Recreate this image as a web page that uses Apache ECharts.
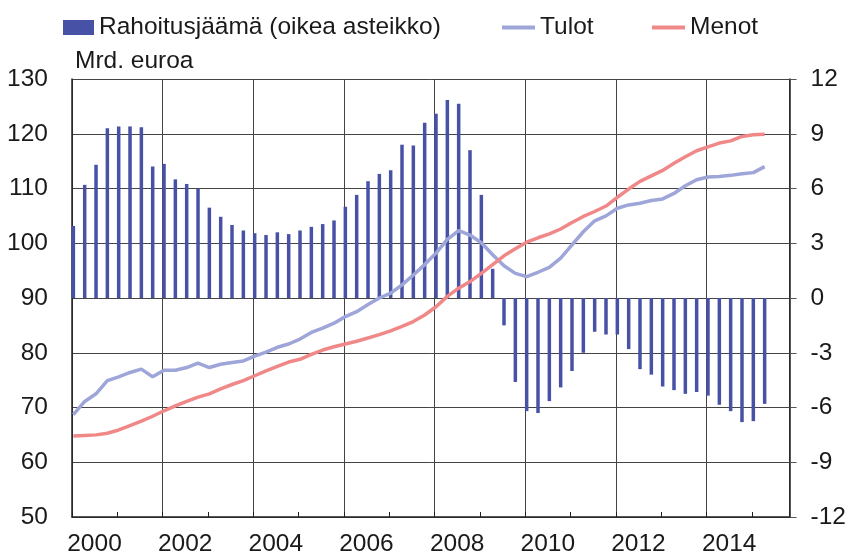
<!DOCTYPE html>
<html>
<head>
<meta charset="utf-8">
<script src="https://cdn.jsdelivr.net/npm/echarts@6/dist/echarts.min.js"></script>
<style>
  html, body { margin: 0; padding: 0; background: #fff; }
  #main { width: 849px; height: 558px; }
</style>
</head>
<body>
<div id="main"></div>
<script>
var myChart = echarts.init(document.getElementById('main'));

// quarterly, 2000Q1 .. 2015Q2
var quarters = [];
for (var y = 2000; y <= 2015; y++) {
  for (var q = 1; q <= 4; q++) {
    if (quarters.length < 62) quarters.push(y + 'Q' + q);
  }
}

// Rahoitusjäämä, right scale
var balance = [
  3.95, 6.2, 7.3, 9.3, 9.4, 9.4, 9.35, 7.2,
  7.35, 6.5, 6.25, 6.0, 4.95, 4.45, 4.0, 3.7,
  3.55, 3.45, 3.6, 3.5, 3.7, 3.9, 4.05, 4.25,
  5.0, 5.65, 6.4, 6.8, 7.0, 8.4, 8.35, 9.6,
  10.1, 10.85, 10.65, 8.1, 5.65, 1.6, -1.5, -4.6,
  -6.2, -6.3, -5.65, -4.9, -4.0, -3.0, -1.85, -2.0,
  -2.0, -2.8, -3.9, -4.2, -4.85, -5.05, -5.25, -5.15,
  -5.35, -5.85, -6.2, -6.8, -6.75, -5.8
];

// Tulot, left scale
var income = [
  68.7, 71.1, 72.5, 74.9, 75.6, 76.4, 77.0, 75.6,
  76.8, 76.8, 77.3, 78.1, 77.3, 77.9, 78.2, 78.5,
  79.4, 80.1, 81.0, 81.6, 82.5, 83.7, 84.5, 85.4,
  86.6, 87.5, 88.8, 90.0, 90.9, 92.4, 94.2, 96.1,
  98.2, 100.7, 102.3, 101.5, 100.1, 97.9, 95.9, 94.5,
  93.9, 94.7, 95.6, 97.3, 99.7, 102.1, 104.1, 105.0,
  106.4, 107.0, 107.3, 107.8, 108.1, 109.1, 110.5, 111.6,
  112.1, 112.2, 112.4, 112.7, 112.9, 114.0
];

// Menot, left scale
var expenditure = [
  64.8, 64.9, 65.0, 65.3, 65.9, 66.7, 67.5, 68.4,
  69.4, 70.3, 71.1, 71.9, 72.5, 73.4, 74.2, 74.9,
  75.8, 76.7, 77.5, 78.3, 78.8, 79.7, 80.5, 81.1,
  81.6, 82.1, 82.7, 83.3, 84.0, 84.8, 85.7, 86.9,
  88.4, 90.3, 91.8, 93.0, 94.5, 96.1, 97.7, 99.0,
  100.2, 101.0, 101.7, 102.6, 103.8, 104.9, 105.8, 106.8,
  108.4, 109.9, 111.3, 112.3, 113.3, 114.6, 115.8, 116.9,
  117.6, 118.3, 118.7, 119.5, 119.8, 119.9
];

var leftTicks = { min: 50, max: 130, interval: 10 };
var rightTicks = { min: -12, max: 12, interval: 3 };

// quarter -> position on the time axis (in years)
var toX = function (label) {
  var p = label.split('Q');
  return +p[0] + (p[1] - 1) / 4 + 0.03;
};
var pairs = function (values) {
  return values.map(function (v, i) { return [toX(quarters[i]), v]; });
};

var txt = '#1a1a1a';
var font = 'Liberation Sans, Arial, sans-serif';
var fs = 24.5;
var xMax = 2015.83;

option = {
  animation: false,
  textStyle: { fontFamily: font },
  grid: { left: 72, right: 58, top: 79, bottom: 41 },
  legend: [
    {
      data: ['Rahoitusjäämä (oikea asteikko)'],
      left: 63, top: 15, padding: 0,
      icon: 'rect', itemWidth: 31, itemHeight: 15,
      textStyle: { fontSize: fs, color: txt, fontFamily: font }
    },
    {
      data: ['Tulot'],
      left: 502, top: 15, padding: 0,
      icon: 'rect', itemWidth: 33, itemHeight: 4,
      textStyle: { fontSize: fs, color: txt, fontFamily: font }
    },
    {
      data: ['Menot'],
      left: 652, top: 15, padding: 0,
      icon: 'rect', itemWidth: 33, itemHeight: 4,
      textStyle: { fontSize: fs, color: txt, fontFamily: font }
    }
  ],
  xAxis: [
    {
      type: 'value',
      min: 2000,
      max: xMax,
      interval: 2,
      position: 'bottom',
      axisLine: { onZero: false, lineStyle: { color: '#222', width: 1.5 } },
      axisTick: { show: false },
      splitLine: { show: true, lineStyle: { color: '#444', width: 1 } },
      axisLabel: {
        fontSize: fs,
        color: txt,
        margin: 15,
        padding: [0, 0, 0, 45],
        showMaxLabel: false,
        formatter: function (v) {
          return (v % 2 === 0 && v < 2015) ? String(v) : '';
        }
      }
    },
    {
      type: 'value',
      min: 2000,
      max: xMax,
      interval: 1,
      position: 'bottom',
      axisLine: { show: false, onZero: false },
      axisTick: { show: true, inside: true, length: 5, lineStyle: { color: '#222' } },
      axisLabel: { show: false },
      splitLine: { show: false }
    }
  ],
  yAxis: [
    {
      type: 'value',
      min: leftTicks.min,
      max: leftTicks.max,
      interval: leftTicks.interval,
      position: 'left',
      name: 'Mrd. euroa',
      nameLocation: 'end',
      nameGap: 5,
      nameTextStyle: {
        fontSize: fs, color: txt, align: 'left', verticalAlign: 'bottom',
        padding: [0, 0, 0, 3]
      },
      axisLine: { show: true, lineStyle: { color: '#222', width: 1.5 } },
      axisTick: { show: false },
      splitLine: { show: true, lineStyle: { color: '#444', width: 1 } },
      axisLabel: { fontSize: fs, color: txt, margin: 24 }
    },
    {
      type: 'value',
      min: rightTicks.min,
      max: rightTicks.max,
      interval: rightTicks.interval,
      position: 'right',
      axisLine: { show: true, lineStyle: { color: '#222', width: 1.5 } },
      axisTick: { show: true, length: 7, lineStyle: { color: '#555' } },
      splitLine: { show: false },
      axisLabel: { fontSize: fs, color: txt, margin: 21 }
    }
  ],
  series: [
    {
      name: 'Rahoitusjäämä (oikea asteikko)',
      type: 'bar',
      xAxisIndex: 0,
      yAxisIndex: 1,
      barWidth: 3.5,
      itemStyle: { color: '#4751a6' },
      data: pairs(balance)
    },
    {
      name: 'Tulot',
      type: 'line',
      xAxisIndex: 0,
      yAxisIndex: 0,
      symbol: 'none',
      color: '#9ea5d8',
      lineStyle: { width: 3.5, color: '#9ea5d8' },
      data: pairs(income)
    },
    {
      name: 'Menot',
      type: 'line',
      xAxisIndex: 0,
      yAxisIndex: 0,
      symbol: 'none',
      color: '#f08888',
      lineStyle: { width: 3.5, color: '#f08888' },
      data: pairs(expenditure)
    }
  ]
};

myChart.setOption(option);
</script>
</body>
</html>
